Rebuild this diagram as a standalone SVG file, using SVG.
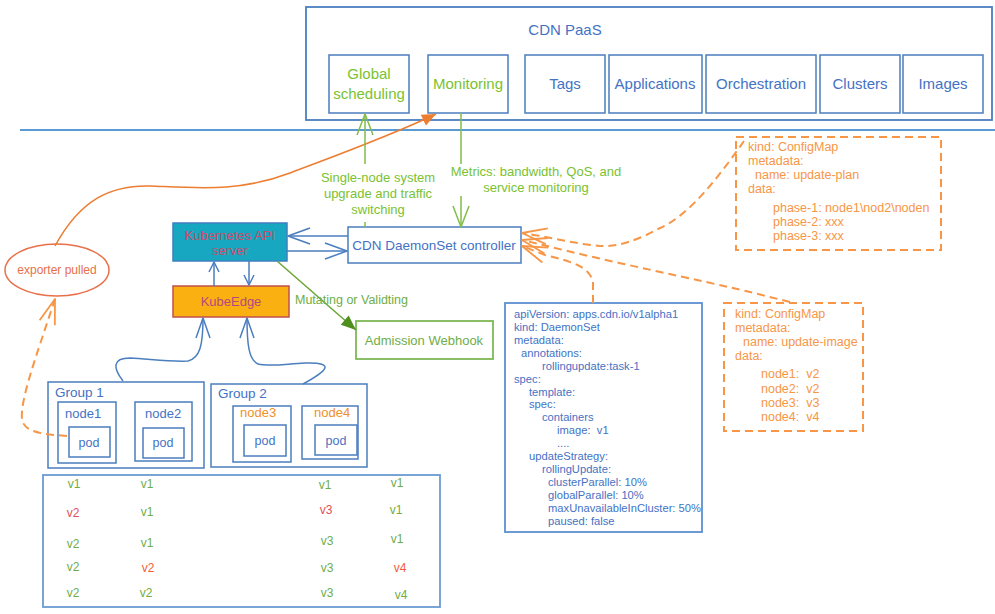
<svg xmlns="http://www.w3.org/2000/svg" width="995" height="614" viewBox="0 0 995 614">
<defs>
<style>
text{font-family:"Liberation Sans",Arial,sans-serif;white-space:pre}
.bx{fill:#fff;stroke:#4a7ebf;stroke-width:1.5}
.bt{fill:#4472c4}
.lime{fill:#7ac231}
.grn{fill:#70ad47}
.org{fill:#f79646}
.c{text-anchor:middle}
.f15{font-size:15px}
.f13{font-size:13px}
.f12{font-size:12.5px}
.yml{font-size:11.2px;fill:#4472c4}
.cm{font-size:12.5px;fill:#f79646}
.tv{font-size:12px;text-anchor:middle;fill:#70ad47}
.red{fill:#e0505a}
.ored{fill:#f0603a}
.dash{fill:none;stroke:#f79646;stroke-width:2;stroke-dasharray:8 5}
.bl{fill:none;stroke:#4a7ebf;stroke-width:1.5}
.gl{fill:none;stroke:#82bd4a;stroke-width:1.5}
</style>
<marker id="aBlueL" viewBox="-24 -10 26 20" refX="0" refY="0" markerWidth="26" markerHeight="20" orient="auto" markerUnits="userSpaceOnUse"><path d="M-22,-8 L0,0 L-22,8" fill="none" stroke="#4a7ebf" stroke-width="1.5" stroke-linejoin="round"/></marker>
<marker id="aBlueM" viewBox="-24 -10 26 20" refX="0" refY="0" markerWidth="26" markerHeight="20" orient="auto" markerUnits="userSpaceOnUse"><path d="M-20,-7 L0,0 L-20,7" fill="none" stroke="#4a7ebf" stroke-width="1.5" stroke-linejoin="round"/></marker>
<marker id="aBlueS" viewBox="-14 -8 16 16" refX="0" refY="0" markerWidth="16" markerHeight="16" orient="auto" markerUnits="userSpaceOnUse"><path d="M-10,-5 L0,0 L-10,5" fill="none" stroke="#4a7ebf" stroke-width="1.5" stroke-linejoin="round"/></marker>
<marker id="aGreen" viewBox="-24 -10 26 20" refX="0" refY="0" markerWidth="26" markerHeight="20" orient="auto" markerUnits="userSpaceOnUse"><path d="M-21,-8 L0,0 L-21,8" fill="none" stroke="#82bd4a" stroke-width="1.5" stroke-linejoin="round"/></marker>
<marker id="aOrg" viewBox="-28 -10 30 20" refX="0" refY="0" markerWidth="30" markerHeight="20" orient="auto" markerUnits="userSpaceOnUse"><path d="M-25,-8 L0,0 L-25,8" fill="none" stroke="#f79646" stroke-width="1.8" stroke-linejoin="round"/></marker>
<marker id="aOrgFill" viewBox="-16 -8 18 16" refX="0" refY="0" markerWidth="18" markerHeight="16" orient="auto" markerUnits="userSpaceOnUse"><path d="M-14,-6 L0,0 L-14,6 Z" fill="#ed7d31"/></marker>
<marker id="aGrnFill" viewBox="-16 -8 18 16" refX="0" refY="0" markerWidth="18" markerHeight="16" orient="auto" markerUnits="userSpaceOnUse"><path d="M-15,-6 L0,0 L-15,6 Z" fill="#4f8f1e"/></marker>
</defs>
<rect width="995" height="614" fill="#fff"/>

<g id="cdn-paas">
<rect x="306" y="7" width="686" height="113" fill="#fff" stroke="#4a7ebf" stroke-width="1.8"/>
<text x="565" y="35" class="c f15 bt">CDN PaaS</text>
</g>
<g id="global-scheduling">
<rect x="329" y="55" width="80" height="58" class="bx" stroke-width="1.2"/>
<text x="369" y="79" class="c f15 lime">Global</text>
<text x="369" y="99" class="c f15 lime">scheduling</text>
</g>
<g id="monitoring">
<rect x="428" y="55" width="80" height="58" class="bx"/>
<text x="468" y="89" class="c f15 lime">Monitoring</text>
</g>
<g id="tags">
<rect x="525" y="55" width="80" height="58" class="bx"/>
<text x="565" y="89" class="c f15 bt">Tags</text>
</g>
<g id="applications">
<rect x="609" y="55" width="93" height="58" class="bx"/>
<text x="655" y="89" class="c f15 bt">Applications</text>
</g>
<g id="orchestration">
<rect x="706" y="55" width="110" height="58" class="bx"/>
<text x="761" y="89" class="c f15 bt">Orchestration</text>
</g>
<g id="clusters">
<rect x="820" y="55" width="80" height="58" class="bx"/>
<text x="860" y="89" class="c f15 bt">Clusters</text>
</g>
<g id="images">
<rect x="903" y="55" width="80" height="58" class="bx"/>
<text x="943" y="89" class="c f15 bt">Images</text>
</g>

<line id="divider" x1="20" y1="130" x2="995" y2="130" stroke="#5b9bd5" stroke-width="2"/>

<g id="k8s-api">
<rect x="173" y="223" width="114" height="38" fill="#17a7c0" stroke="#3f7fbf" stroke-width="1.5"/>
<text x="230" y="240" class="c f13" fill="#d04a6a">Kubernetes API</text>
<text x="230" y="255" class="c f13" fill="#d04a6a">server</text>
</g>
<g id="kubeedge">
<rect x="173" y="286" width="116" height="31" fill="#fbb012" stroke="#c0504d" stroke-width="1.5"/>
<text x="231" y="306" class="c f13" fill="#b24a80">KubeEdge</text>
</g>
<g id="exporter">
<ellipse cx="57" cy="270" rx="52" ry="26" fill="#fff" stroke="#e8704a" stroke-width="1.5"/>
<text x="57" y="274" class="c" font-size="12px" fill="#e8704a">exporter pulled</text>
</g>
<g id="controller">
<rect x="348" y="227" width="173" height="36" class="bx"/>
<text x="434" y="250" class="c" font-size="13.5px" fill="#4472c4">CDN DaemonSet controller</text>
</g>
<g id="admission-webhook">
<rect x="356" y="321" width="137" height="38" fill="#fff" stroke="#7fb956" stroke-width="1.8"/>
<text x="424" y="345" class="c f13 grn">Admission Webhook</text>
</g>

<g id="group1">
<rect x="48" y="382" width="156" height="86" class="bx" stroke-width="1.8"/>
<text x="55" y="397" font-size="13.5px" class="bt">Group 1</text>
<g id="node1">
<rect x="58" y="402" width="58" height="61" class="bx"/>
<text x="65" y="418" class="f13 bt">node1</text>
<rect x="69" y="427" width="41" height="30" class="bx"/>
<text x="89" y="447" class="c f12 bt">pod</text>
</g>
<g id="node2">
<rect x="135" y="402" width="57" height="59" class="bx"/>
<text x="145" y="418" class="f13 bt">node2</text>
<rect x="143" y="428" width="41" height="30" class="bx"/>
<text x="163" y="447" class="c f12 bt">pod</text>
</g>
</g>
<g id="group2">
<rect x="211" y="384" width="156" height="83" class="bx" stroke-width="1.8"/>
<text x="218" y="398" font-size="13.5px" class="bt">Group 2</text>
<g id="node3">
<rect x="233" y="406" width="58" height="56" class="bx"/>
<text x="240" y="417" class="f13" fill="#f0902a">node3</text>
<rect x="244" y="425" width="42" height="31" class="bx"/>
<text x="265" y="445" class="c f12 bt">pod</text>
</g>
<g id="node4">
<rect x="302" y="406" width="56" height="53" class="bx"/>
<text x="314" y="417" class="f13" fill="#f0902a">node4</text>
<rect x="315" y="425" width="42" height="30" class="bx"/>
<text x="336" y="445" class="c f12 bt">pod</text>
</g>
</g>

<g id="versions-table">
<rect x="43" y="475" width="397" height="132" fill="#fff" stroke="#6b9bd2" stroke-width="1.8"/>
<text x="74" y="488" class="tv">v1</text><text x="147" y="488" class="tv">v1</text><text x="325" y="489" class="tv">v1</text><text x="397" y="487" class="tv">v1</text>
<text x="73" y="517" class="tv red">v2</text><text x="147" y="516" class="tv">v1</text><text x="326" y="514" class="tv red">v3</text><text x="396" y="514" class="tv">v1</text>
<text x="73" y="548" class="tv">v2</text><text x="147" y="547" class="tv">v1</text><text x="327" y="545" class="tv">v3</text><text x="397" y="543" class="tv">v1</text>
<text x="73" y="571" class="tv">v2</text><text x="148" y="572" class="tv ored">v2</text><text x="327" y="572" class="tv">v3</text><text x="400" y="572" class="tv ored">v4</text>
<text x="73" y="597" class="tv">v2</text><text x="146" y="597" class="tv">v2</text><text x="327" y="597" class="tv">v3</text><text x="401" y="599" class="tv">v4</text>
</g>

<g id="daemonset-yaml">
<rect x="505" y="303" width="197" height="229" fill="#fff" stroke="#5b8fd0" stroke-width="1.8"/>
<text x="514" y="318" class="yml">apiVersion: apps.cdn.io/v1alpha1</text>
<text x="514" y="331" class="yml">kind: DaemonSet</text>
<text x="514" y="344" class="yml">metadata:</text>
<text x="521" y="357" class="yml">annotations:</text>
<text x="542" y="370" class="yml">rollingupdate:task-1</text>
<text x="514" y="383" class="yml">spec:</text>
<text x="529" y="396" class="yml">template:</text>
<text x="529" y="408" class="yml">spec:</text>
<text x="542" y="421" class="yml">containers</text>
<text x="557" y="434" class="yml">image:  v1</text>
<text x="557" y="447" class="yml">....</text>
<text x="529" y="460" class="yml">updateStrategy:</text>
<text x="542" y="473" class="yml">rollingUpdate:</text>
<text x="548" y="486" class="yml">clusterParallel: 10%</text>
<text x="548" y="499" class="yml">globalParallel: 10%</text>
<text x="548" y="512" class="yml">maxUnavailableInCluster: 50%</text>
<text x="548" y="525" class="yml">paused: false</text>
</g>

<g id="configmap-update-plan">
<rect x="736" y="137" width="205" height="113" class="dash"/>
<text x="748" y="151" class="cm">kind: ConfigMap</text>
<text x="748" y="165" class="cm">metadata:</text>
<text x="755" y="179" class="cm">name: update-plan</text>
<text x="748" y="193" class="cm">data:</text>
<text x="773" y="212" class="cm">phase-1: node1\nod2\noden</text>
<text x="773" y="226" class="cm">phase-2: xxx</text>
<text x="773" y="240" class="cm">phase-3: xxx</text>
</g>
<g id="configmap-update-image">
<rect x="724" y="303" width="139" height="128" class="dash"/>
<text x="735" y="318" class="cm">kind: ConfigMap</text>
<text x="735" y="332" class="cm">metadata:</text>
<text x="743" y="346" class="cm">name: update-image</text>
<text x="735" y="360" class="cm">data:</text>
<text x="761" y="378" class="cm">node1:  v2</text>
<text x="761" y="393" class="cm">node2:  v2</text>
<text x="761" y="407" class="cm">node3:  v3</text>
<text x="761" y="421" class="cm">node4:  v4</text>
</g>

<g id="connectors">
<line x1="348" y1="236" x2="288" y2="236" class="bl" marker-end="url(#aBlueL)"/>
<line x1="287" y1="251" x2="347" y2="251" class="bl" marker-end="url(#aBlueL)"/>
<line x1="214" y1="286" x2="214" y2="262" class="bl" marker-end="url(#aBlueS)"/>
<line x1="249" y1="261" x2="249" y2="285" class="bl" marker-end="url(#aBlueS)"/>
<path d="M123,381 C113,368 112,358 130,358 C150,359 170,362 188,361 C200,358 203,345 203,318" class="bl" marker-end="url(#aBlueM)"/>
<path d="M303,384 C325,372 338,362 305,363 C285,364 270,367 258,364 C249,360 247,345 247,318" class="bl" marker-end="url(#aBlueM)"/>
<path d="M55,246 C80,200 110,185 150,186 C200,188 240,192 290,173 C340,154 390,136 436,114" fill="none" stroke="#ed7d31" stroke-width="1.5" marker-end="url(#aOrgFill)"/>
<path d="M67,436 C40,434 25,432 22,420 C20,400 35,360 55,299" class="dash" stroke-width="1.8" marker-end="url(#aOrg)"/>
<line x1="365" y1="227" x2="365" y2="222" class="gl"/>
<line x1="365" y1="164" x2="365" y2="114" class="gl" marker-end="url(#aGreen)"/>
<line x1="461" y1="113" x2="461" y2="164" class="gl"/>
<line x1="461" y1="196" x2="461" y2="227" class="gl" marker-end="url(#aGreen)"/>
<line x1="277" y1="261" x2="356" y2="330" stroke="#6aa535" stroke-width="1.5" marker-end="url(#aGrnFill)"/>
<path d="M744,141 C720,175 690,215 660,228 C635,242 615,247 600,246 C575,244 545,236 522,233" class="dash" marker-end="url(#aOrg)"/>
<path d="M790,302 L750,292 C700,280 610,262 543,245 L522,240" class="dash" marker-end="url(#aOrg)"/>
<path d="M593,303 L593,282 C590,268 575,262 545,255 L522,246" class="dash" marker-end="url(#aOrg)"/>
</g>

<g id="labels">
<text x="378" y="182" class="c f13 lime">Single-node system</text>
<text x="378" y="198" class="c f13 lime">upgrade and traffic</text>
<text x="378" y="214" class="c f13 lime">switching</text>
<text x="536" y="176" class="c f13 lime">Metrics: bandwidth, QoS, and</text>
<text x="536" y="192" class="c f13 lime">service monitoring</text>
<text x="295" y="304" class="f12 grn">Mutating or Validting</text>
</g>
</svg>
